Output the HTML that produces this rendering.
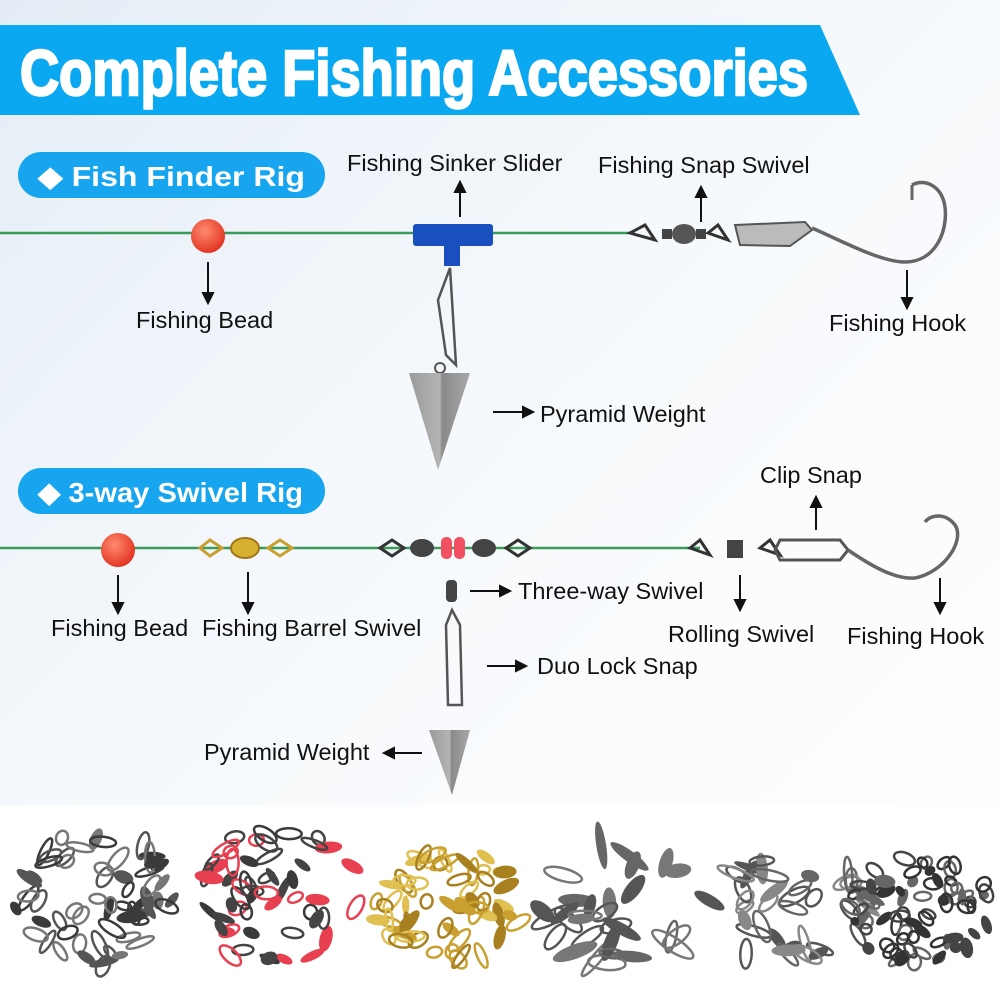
<!DOCTYPE html>
<html><head><meta charset="utf-8"><style>
html,body{margin:0;padding:0;width:1000px;height:1000px;overflow:hidden;background:#fff}
svg{display:block}
text{font-family:"Liberation Sans",sans-serif}
</style></head><body>
<svg id="s" width="1000" height="1000" viewBox="0 0 1000 1000" xmlns="http://www.w3.org/2000/svg">
<defs>
<linearGradient id="bg" x1="0" y1="0" x2="1" y2="1">
<stop offset="0" stop-color="#e4edf6"/><stop offset="0.45" stop-color="#f6f9fc"/><stop offset="1" stop-color="#ffffff"/>
</linearGradient>
<linearGradient id="lead" x1="0" y1="0" x2="1" y2="0">
<stop offset="0" stop-color="#9a9a9a"/><stop offset="0.5" stop-color="#b4b4b4"/><stop offset="0.55" stop-color="#8a8a8a"/><stop offset="1" stop-color="#a8a8a8"/>
</linearGradient>
<radialGradient id="bead" cx="0.4" cy="0.35" r="0.7">
<stop offset="0" stop-color="#ff8a70"/><stop offset="1" stop-color="#e0301c"/>
</radialGradient>
</defs>
<rect width="1000" height="1000" fill="url(#bg)"/>
<rect y="805" width="1000" height="195" fill="#fff"/>
<polygon points="0,25 820,25 860,115 0,115" fill="#0aa8f0"/>
<text x="20" y="95" fill="#fff" stroke="#fff" stroke-width="2.5" font-size="64" font-weight="bold" textLength="788" lengthAdjust="spacingAndGlyphs">Complete Fishing Accessories</text>
<rect x="18" y="152" width="307" height="46" rx="23" fill="#16a5ee"/>
<text x="38" y="186" fill="#fff" font-size="28" font-weight="bold" textLength="267" lengthAdjust="spacingAndGlyphs">◆ Fish Finder Rig</text>
<rect x="18" y="468" width="307" height="46" rx="23" fill="#16a5ee"/>
<text x="38" y="502" fill="#fff" font-size="28" font-weight="bold" textLength="265" lengthAdjust="spacingAndGlyphs">◆ 3-way Swivel Rig</text>
<line x1="0" y1="233" x2="630" y2="233" stroke="#3a9a5a" stroke-width="2.5"/>
<circle cx="208" cy="236" r="17" fill="url(#bead)"/>
<rect x="413" y="224" width="80" height="22" rx="3" fill="#1a4fc0"/>
<rect x="444" y="244" width="16" height="22" fill="#1a4fc0"/>
<path d="M450 268 L438 300 L446 355 L456 365 L452 300 Z" fill="none" stroke="#555" stroke-width="2.5"/>
<circle cx="440" cy="368" r="5" fill="none" stroke="#555" stroke-width="2"/>
<polygon points="409,373 470,373 438,470" fill="url(#lead)"/>
<path d="M630 233 L645 225 L655 240 Z" fill="none" stroke="#333" stroke-width="3"/>
<rect x="662" y="229" width="10" height="10" fill="#444"/>
<ellipse cx="684" cy="234" rx="12" ry="10" fill="#555"/>
<rect x="696" y="229" width="10" height="10" fill="#444"/>
<path d="M708 233 L718 225 L728 240 Z" fill="none" stroke="#333" stroke-width="3"/>
<path d="M735 225 L805 222 L812 230 L790 246 L740 245 Z" fill="#bbb" stroke="#555" stroke-width="2"/>
<path d="M812 228 C840 240 880 262 905 262 C935 262 948 232 945 207 C942 186 925 178 912 185" fill="none" stroke="#666" stroke-width="3.5"/>
<path d="M912 185 L912 200" stroke="#666" stroke-width="3"/>
<g font-size="23.5" fill="#111">
<text x="347" y="171">Fishing Sinker Slider</text>
<text x="598" y="173">Fishing Snap Swivel</text>
<text x="136" y="328">Fishing Bead</text>
<text x="829" y="331">Fishing Hook</text>
<text x="540" y="422">Pyramid Weight</text>
</g>
<g stroke="#111" stroke-width="2" fill="#111">
<line x1="460" y1="217" x2="460" y2="190"/><polygon points="455,192 465,192 460,182"/>
<line x1="701" y1="222" x2="701" y2="195"/><polygon points="696,197 706,197 701,187"/>
<line x1="208" y1="262" x2="208" y2="295"/><polygon points="203,293 213,293 208,303"/>
<line x1="907" y1="270" x2="907" y2="300"/><polygon points="902,298 912,298 907,308"/>
<line x1="493" y1="412" x2="525" y2="412"/><polygon points="523,407 523,417 533,412"/>
</g>
<line x1="0" y1="548" x2="700" y2="548" stroke="#3a9a5a" stroke-width="2.5"/>
<circle cx="118" cy="550" r="17" fill="url(#bead)"/>
<ellipse cx="245" cy="548" rx="14" ry="10" fill="#d8b030" stroke="#a07818" stroke-width="2"/>
<path d="M200 548 L210 540 L222 548 L210 556 Z" fill="none" stroke="#c9a030" stroke-width="3"/>
<path d="M268 548 L280 540 L292 548 L280 556 Z" fill="none" stroke="#c9a030" stroke-width="3"/>
<path d="M380 548 L392 540 L404 548 L392 556 Z" fill="none" stroke="#333" stroke-width="3"/>
<ellipse cx="422" cy="548" rx="12" ry="9" fill="#444"/>
<rect x="441" y="537" width="11" height="22" rx="5" fill="#f05060"/>
<rect x="454" y="537" width="11" height="22" rx="5" fill="#f05060"/>
<ellipse cx="484" cy="548" rx="12" ry="9" fill="#444"/>
<path d="M506 548 L518 540 L530 548 L518 556 Z" fill="none" stroke="#333" stroke-width="3"/>
<rect x="446" y="580" width="11" height="22" rx="4" fill="#444"/>
<path d="M452 610 L446 625 L448 705 L462 705 L460 625 Z" fill="none" stroke="#555" stroke-width="2.5"/>
<polygon points="429,730 470,730 452,795" fill="url(#lead)"/>
<path d="M690 548 L700 540 L710 555 Z" fill="none" stroke="#333" stroke-width="3"/>
<rect x="727" y="540" width="16" height="18" fill="#444"/>
<path d="M760 548 L770 540 L780 555 Z" fill="none" stroke="#333" stroke-width="3"/>
<path d="M780 540 L840 540 L848 550 L840 560 L780 560 L775 550 Z" fill="none" stroke="#555" stroke-width="3"/>
<path d="M848 550 C870 565 895 580 915 578 C945 572 965 540 955 525 C945 512 930 515 925 522" fill="none" stroke="#666" stroke-width="3.5"/>
<g font-size="23.5" fill="#111">
<text x="760" y="483">Clip Snap</text>
<text x="518" y="599">Three-way Swivel</text>
<text x="51" y="636">Fishing Bead</text>
<text x="202" y="636">Fishing Barrel Swivel</text>
<text x="668" y="642">Rolling Swivel</text>
<text x="847" y="644">Fishing Hook</text>
<text x="537" y="674">Duo Lock Snap</text>
<text x="204" y="760">Pyramid Weight</text>
</g>
<g stroke="#111" stroke-width="2" fill="#111">
<line x1="816" y1="530" x2="816" y2="505"/><polygon points="811,507 821,507 816,497"/>
<line x1="118" y1="575" x2="118" y2="605"/><polygon points="113,603 123,603 118,613"/>
<line x1="248" y1="572" x2="248" y2="605"/><polygon points="243,603 253,603 248,613"/>
<line x1="740" y1="575" x2="740" y2="602"/><polygon points="735,600 745,600 740,610"/>
<line x1="940" y1="578" x2="940" y2="605"/><polygon points="935,603 945,603 940,613"/>
<line x1="470" y1="591" x2="502" y2="591"/><polygon points="500,586 500,596 510,591"/>
<line x1="487" y1="666" x2="518" y2="666"/><polygon points="516,661 516,671 526,666"/>
<line x1="422" y1="753" x2="392" y2="753"/><polygon points="394,748 394,758 384,753"/>
</g>
<g id="piles"></g>
</svg>
<script>
(function(){
var seed=7;function r(){seed=(seed*16807)%2147483647;return seed/2147483647;}
var g=document.getElementById('piles'),ns='http://www.w3.org/2000/svg';
var piles=[
 [95,900,80,70,['#3a3a3a','#555','#777'],60,14,6],
 [280,898,80,75,['#3a3a3a','#444','#e84050'],55,14,6],
 [450,905,75,60,['#c9a030','#e0c050','#a88020'],60,14,6],
 [610,905,85,60,['#555','#666','#777'],30,22,7],
 [790,910,85,55,['#555','#666','#888'],40,18,6],
 [920,912,75,55,['#333','#444','#666'],70,10,6]];
piles.forEach(function(p){
 for(var i=0;i<p[5];i++){
  var a=r()*6.283,d=Math.sqrt(r());
  var x=p[0]+Math.cos(a)*d*p[2],y=p[1]+Math.sin(a)*d*p[3];
  var e=document.createElementNS(ns,'ellipse');
  e.setAttribute('cx',x.toFixed(1));e.setAttribute('cy',y.toFixed(1));
  e.setAttribute('rx',(p[6]*(0.5+r()*0.6)).toFixed(1));e.setAttribute('ry',(p[7]*(0.6+r()*0.5)).toFixed(1));
  e.setAttribute('transform','rotate('+(r()*180).toFixed(0)+' '+x.toFixed(1)+' '+y.toFixed(1)+')');
  var c=p[4][Math.floor(r()*p[4].length)];
  if(r()<0.4){e.setAttribute('fill',c);e.setAttribute('stroke','none');}
  else{e.setAttribute('fill','none');e.setAttribute('stroke',c);e.setAttribute('stroke-width','2.5');}
  g.appendChild(e);
 }
});
})();
</script>
</body></html>
